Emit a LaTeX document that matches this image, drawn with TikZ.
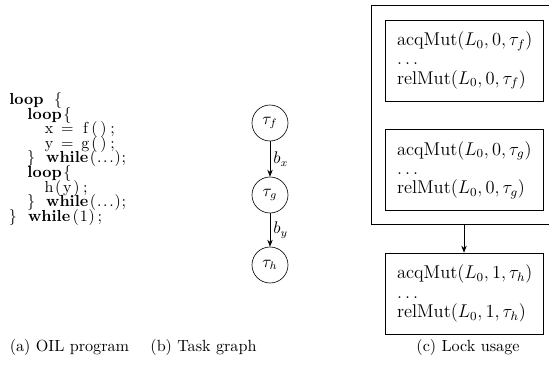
\documentclass[tikz,border=0pt]{standalone}
\usetikzlibrary{arrows.meta}
\newlength\cw
\setlength\cw{5.9pt}
\newcommand\K[2]{\makebox[#1\cw][c]{#2}}
\newcommand\Pn[1]{\makebox[4pt][c]{#1}}
\newcommand\Qn[1]{\makebox[5.2pt][c]{#1}}
\tikzset{
  codeline/.style={anchor=base west, inner sep=0pt, font=\fontsize{10.4}{12}\selectfont},
  taskcirc/.style={draw, circle, minimum size=23.4pt, inner sep=0pt, font=\fontsize{10.5}{12}\selectfont},
  lockbox/.style={draw, rectangle, minimum height=52.7pt, text width=87pt, inner xsep=7.8pt, align=left, font=\fontsize{12}{12.5}\selectfont},
  outerbox/.style={draw},
  arr/.style={-{Stealth[length=4.5pt,width=3.5pt]}},
  capt/.style={anchor=base, inner sep=0pt, font=\fontsize{10.5}{12}\selectfont},
}
\begin{document}
\begin{tikzpicture}[x=0.65pt,y=-0.65pt]
\useasboundingbox (0,0) rectangle (549,373);
% code
\node[codeline] (c1) at (8,104.5) {\K4{\textbf{loop}}\K1{}\K1{\{}};
\node[codeline] (c2) at (8,119.1) {\K2{}\K4{\textbf{loop}}\K1{\{}};
\node[codeline] (c3) at (8,133.7) {\K4{}\K1{x}\K1{}\K1{=}\K1{}\K1{f}\K1{(}\K1{)}\K1{;}};
\node[codeline] (c4) at (8,148.3) {\K4{}\K1{y}\K1{}\K1{=}\K1{}\K1{g}\K1{(}\K1{)}\K1{;}};
\node[codeline] (c5) at (8,162.9) {\K2{}\K1{\}}\K1{}\K5{\textbf{while}}\Pn{(}\Pn{.}\Pn{.}\Pn{.}\Pn{)}\Pn{;}};
\node[codeline] (c6) at (8,177.5) {\K2{}\K4{\textbf{loop}}\K1{\{}};
\node[codeline] (c7) at (8,192.1) {\K4{}\K1{h}\K1{(}\K1{y}\K1{)}\K1{;}};
\node[codeline] (c8) at (8,206.7) {\K2{}\K1{\}}\K1{}\K5{\textbf{while}}\Pn{(}\Pn{.}\Pn{.}\Pn{.}\Pn{)}\Pn{;}};
\node[codeline] (c9) at (8,221.3) {\K1{\}}\K1{}\K5{\textbf{while}}\Qn{(}\Qn{1}\Qn{)}\Qn{;}};
% task graph
\node[taskcirc] (tf) at (270,123) {$\tau_f$};
\node[taskcirc] (tg) at (270,195) {$\tau_g$};
\node[taskcirc] (th) at (270,265) {$\tau_h$};
\draw[arr] (tf) -- node[right, inner sep=2pt, font=\fontsize{10.5}{12}\selectfont] (bx) {$b_x$} (tg);
\draw[arr] (tg) -- node[right, inner sep=2pt, font=\fontsize{10.5}{12}\selectfont] (by) {$b_y$} (th);
% lock usage
\coordinate (otl) at (371,5);
\coordinate (obr) at (551,224);
\draw[outerbox] (otl) rectangle (obr);
\coordinate (obot) at (464,224);
\node[lockbox] (lf) at (464,60.5) {acqMut$(L_0,0,\tau_f)$\\$\ldots$\\relMut$(L_0,0,\tau_f)$};
\node[lockbox] (lg) at (464,170) {acqMut$(L_0,0,\tau_g)$\\$\ldots$\\relMut$(L_0,0,\tau_g)$};
\node[lockbox] (lh) at (464,293.5) {acqMut$(L_0,1,\tau_h)$\\$\ldots$\\relMut$(L_0,1,\tau_h)$};
\draw[arr] (obot) -- (lh.north);
% captions
\node[capt] (capa) at (69.5,351) {(a) OIL program};
\node[capt] (capb) at (203.5,351) {(b) Task graph};
\node[capt] (capc) at (468,351) {(c) Lock usage};
\end{tikzpicture}
\end{document}
